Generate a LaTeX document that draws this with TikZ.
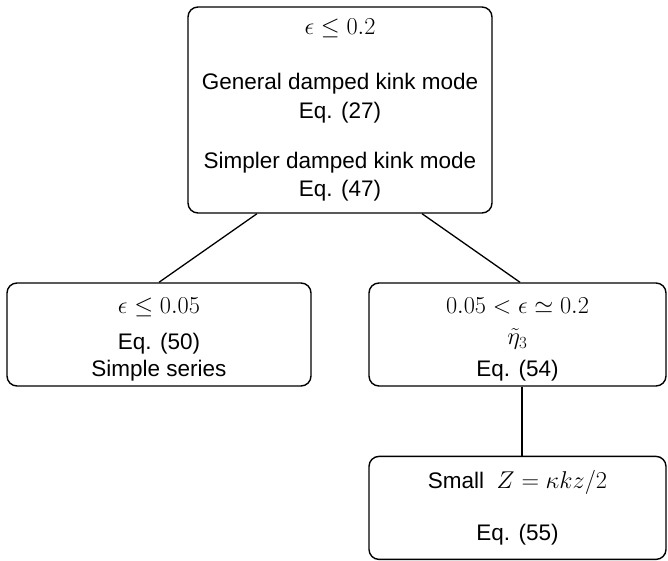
\RequirePackage{fix-cm}
\documentclass[tikz,border=0pt]{standalone}
\usepackage{amsmath}
\usepackage{fontspec}
\setmainfont{Liberation Sans}
\usepackage{tikz}
\usetikzlibrary{positioning}

% maths a little larger than the text
\newcommand{\boxmath}[1]{{\fontsize{24.3}{28}\selectfont$#1$}}

\begin{document}
\begin{tikzpicture}[x=1pt, y=1pt,
    box/.style={draw, rounded corners=10pt, line width=1.4pt, align=center,
        inner sep=0pt, font=\fontsize{22.5}{28}\selectfont},
    link/.style={line width=1.3pt}]
    \useasboundingbox (0,0) rectangle (668,561);

    % general case
    \node[box, minimum width=304pt, minimum height=206pt] (top) at (340,451)
        {\boxmath{\epsilon \leq 0.2}\\[27pt]
         General damped kink mode\\[1pt] Eq. (27)\\[22pt]
         Simpler damped kink mode\\ Eq. (47)};

    % two ranges of epsilon
    \node[box, minimum width=304pt, minimum height=103pt] (small) at (159,226.5)
        {\rule{0pt}{26pt}\boxmath{\epsilon \leq 0.05}\\[8pt] Eq. (50)\\[-1pt] Simple series};
    \node[box, minimum width=297pt, minimum height=103pt] (mid) at (517.5,226.5)
        {\rule{0pt}{26pt}\boxmath{0.05 < \epsilon \simeq 0.2}\\[3pt] \boxmath{\tilde{\eta}_3}\\[4pt] Eq. (54)};

    % limit of small Z
    \node[box, minimum width=297pt, minimum height=103pt, below=69pt of mid] (smallz)
        {Small\ \ \boxmath{Z = \kappa k z/2}\\[24pt] Eq. (55)};

    \draw[link] ([xshift=-83pt]top.south) -- (small.north);
    \draw[link] ([xshift=82pt]top.south) -- ([xshift=2.5pt]mid.north);
    \draw[link] ([xshift=4.5pt]mid.south) -- ([xshift=4.5pt]smallz.north);
\end{tikzpicture}
\end{document}
